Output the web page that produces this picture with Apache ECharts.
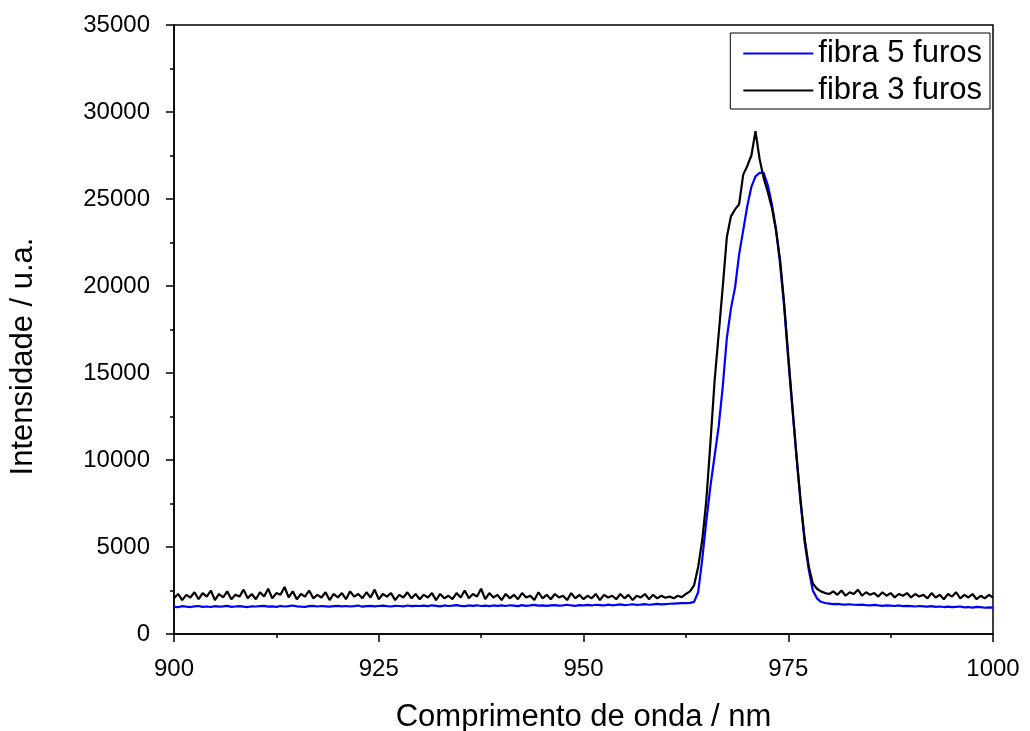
<!DOCTYPE html>
<html>
<head>
<meta charset="utf-8">
<script src="https://cdn.jsdelivr.net/npm/echarts@6/dist/echarts.min.js"></script>
<style>
html,body{margin:0;padding:0;background:#fff;}
#chart{width:1030px;height:731px;}
</style>
</head>
<body>
<div id="chart"></div>
<script>
// Sampling grid: 900 nm to 1000 nm, every 0.5 nm
const startWl = 900;
const stepWl = 0.5;

const seriesNames = ['fibra 5 furos', 'fibra 3 furos'];
const xTitle = 'Comprimento de onda / nm';
const yTitle = 'Intensidade / u.a.';

// fibra 5 furos (blue)
const fibra5 = [
  1560,1540,1600,1570,1550,1590,1610,1560,1580,1550,1600,1570,1590,1620,1560,1580,1600,1570,1550,1590,
  1580,1600,1620,1570,1590,1560,1610,1580,1600,1640,1590,1570,1560,1600,1620,1580,1610,1590,1570,1600,
  1620,1590,1610,1580,1600,1640,1570,1600,1620,1590,1610,1630,1600,1580,1620,1610,1590,1640,1600,1620,
  1610,1630,1600,1650,1620,1590,1640,1610,1630,1660,1620,1600,1640,1620,1650,1610,1630,1600,1640,1620,
  1640,1610,1650,1630,1600,1660,1620,1640,1670,1630,1650,1620,1640,1660,1630,1650,1680,1640,1620,1660,
  1650,1670,1640,1680,1660,1640,1690,1650,1670,1700,1660,1680,1710,1670,1690,1720,1680,1700,1730,1700,
  1720,1740,1750,1760,1770,1780,1790,1850,2400,4300,6500,8500,10200,11900,14200,17000,18700,19900,21800,23200,
  24600,25700,26300,26500,26500,25800,24700,23300,21300,18800,15800,13000,10200,7600,5300,3700,2500,2050,1850,1780,
  1750,1720,1730,1700,1690,1710,1680,1670,1690,1660,1650,1670,1640,1620,1650,1630,1610,1640,1600,1620,
  1600,1580,1610,1590,1570,1600,1560,1580,1550,1570,1540,1560,1580,1530,1550,1520,1560,1540,1510,1530,
  1520
];

// fibra 3 furos (black)
const fibra3 = [
  2050,2300,1950,2250,2100,2400,2000,2350,2150,2500,1950,2300,2100,2450,2000,2250,2150,2550,2050,2300,
  2000,2400,2150,2600,2050,2350,2250,2700,2100,2450,2000,2300,2150,2500,2050,2250,2100,2400,1950,2300,
  2100,2350,2000,2450,2150,2300,2050,2400,2100,2550,2000,2300,2150,2350,1950,2250,2100,2400,2050,2300,
  2000,2250,2100,2350,1950,2300,2050,2200,2000,2350,2100,2500,2050,2300,2150,2600,2000,2350,2100,2250,
  1950,2300,2050,2250,2000,2350,2100,2200,1950,2400,2050,2250,2000,2300,2100,2200,1950,2350,2050,2250,
  2000,2200,2050,2300,1950,2250,2100,2200,2000,2300,2050,2250,1950,2200,2100,2300,2000,2250,2050,2200,
  2080,2150,2050,2200,2120,2300,2450,2800,3850,5400,7700,11000,14500,17200,19940,22800,24000,24400,24700,26400,
  26900,27500,28900,27300,26200,25400,24500,23200,21500,19000,16000,13100,10300,7700,5500,3900,2900,2600,2450,2350,
  2300,2450,2250,2500,2200,2400,2300,2550,2200,2400,2250,2350,2150,2400,2200,2350,2100,2300,2200,2350,
  2100,2300,2150,2250,2050,2350,2100,2250,2000,2300,2150,2400,2050,2250,2100,2300,2000,2200,2050,2250,
  2100
];

function pairs(vals){
  return vals.map((v,i)=>[startWl + i*stepWl, v]);
}

const chart = echarts.init(document.getElementById('chart'), null, {renderer:'canvas'});
const FONT = 'Liberation Sans, Arial, sans-serif';
chart.setOption({
  animation:false,
  backgroundColor:'#ffffff',
  grid:{left:174, right:37, top:25, bottom:97, show:true, borderColor:'#000', borderWidth:1.5,
        backgroundColor:'transparent', containLabel:false, outerBoundsMode:'none'},
  legend:{
    data:seriesNames,
    orient:'vertical',
    right:40, top:33,
    borderColor:'#000', borderWidth:1,
    padding:[5,8,3,13],
    itemGap:6,
    itemWidth:70, itemHeight:2,
    icon:'rect',
    textStyle:{fontFamily:FONT, fontSize:31, color:'#000'}
  },
  xAxis:{
    type:'value', min:900, max:1000, interval:25,
    name:xTitle, nameLocation:'middle', nameGap:68,
    nameTextStyle:{fontFamily:FONT, fontSize:31, color:'#000'},
    axisLine:{show:true, onZero:false, lineStyle:{color:'#000', width:1.5}},
    axisTick:{show:true, inside:false, length:8, lineStyle:{color:'#000', width:1.5}},
    minorTick:{show:true, splitNumber:2, length:4, lineStyle:{color:'#000', width:1.5}},
    axisLabel:{fontFamily:FONT, fontSize:24, color:'#000', margin:23, formatter:v=>String(v)},
    splitLine:{show:false}
  },
  yAxis:{
    type:'value', min:0, max:35000, interval:5000,
    name:yTitle, nameLocation:'middle', nameGap:135, nameRotate:90,
    nameTextStyle:{fontFamily:FONT, fontSize:31, color:'#000', padding:[0,54,0,0]},
    axisLine:{show:true, lineStyle:{color:'#000', width:1.5}},
    axisTick:{show:true, inside:false, length:8, lineStyle:{color:'#000', width:1.5}},
    minorTick:{show:true, splitNumber:2, length:4, lineStyle:{color:'#000', width:1.5}},
    axisLabel:{fontFamily:FONT, fontSize:24, color:'#000', margin:24, formatter:v=>String(v)},
    splitLine:{show:false}
  },
  series:[
    {name:seriesNames[0], type:'line', data:pairs(fibra5), showSymbol:false, symbol:'none',
     lineStyle:{color:'#0000ff', width:2.2}, itemStyle:{color:'#0000ff'}},
    {name:seriesNames[1], type:'line', data:pairs(fibra3), showSymbol:false, symbol:'none',
     lineStyle:{color:'#000000', width:2.2}, itemStyle:{color:'#000000'}}
  ]
});
</script>
</body>
</html>
